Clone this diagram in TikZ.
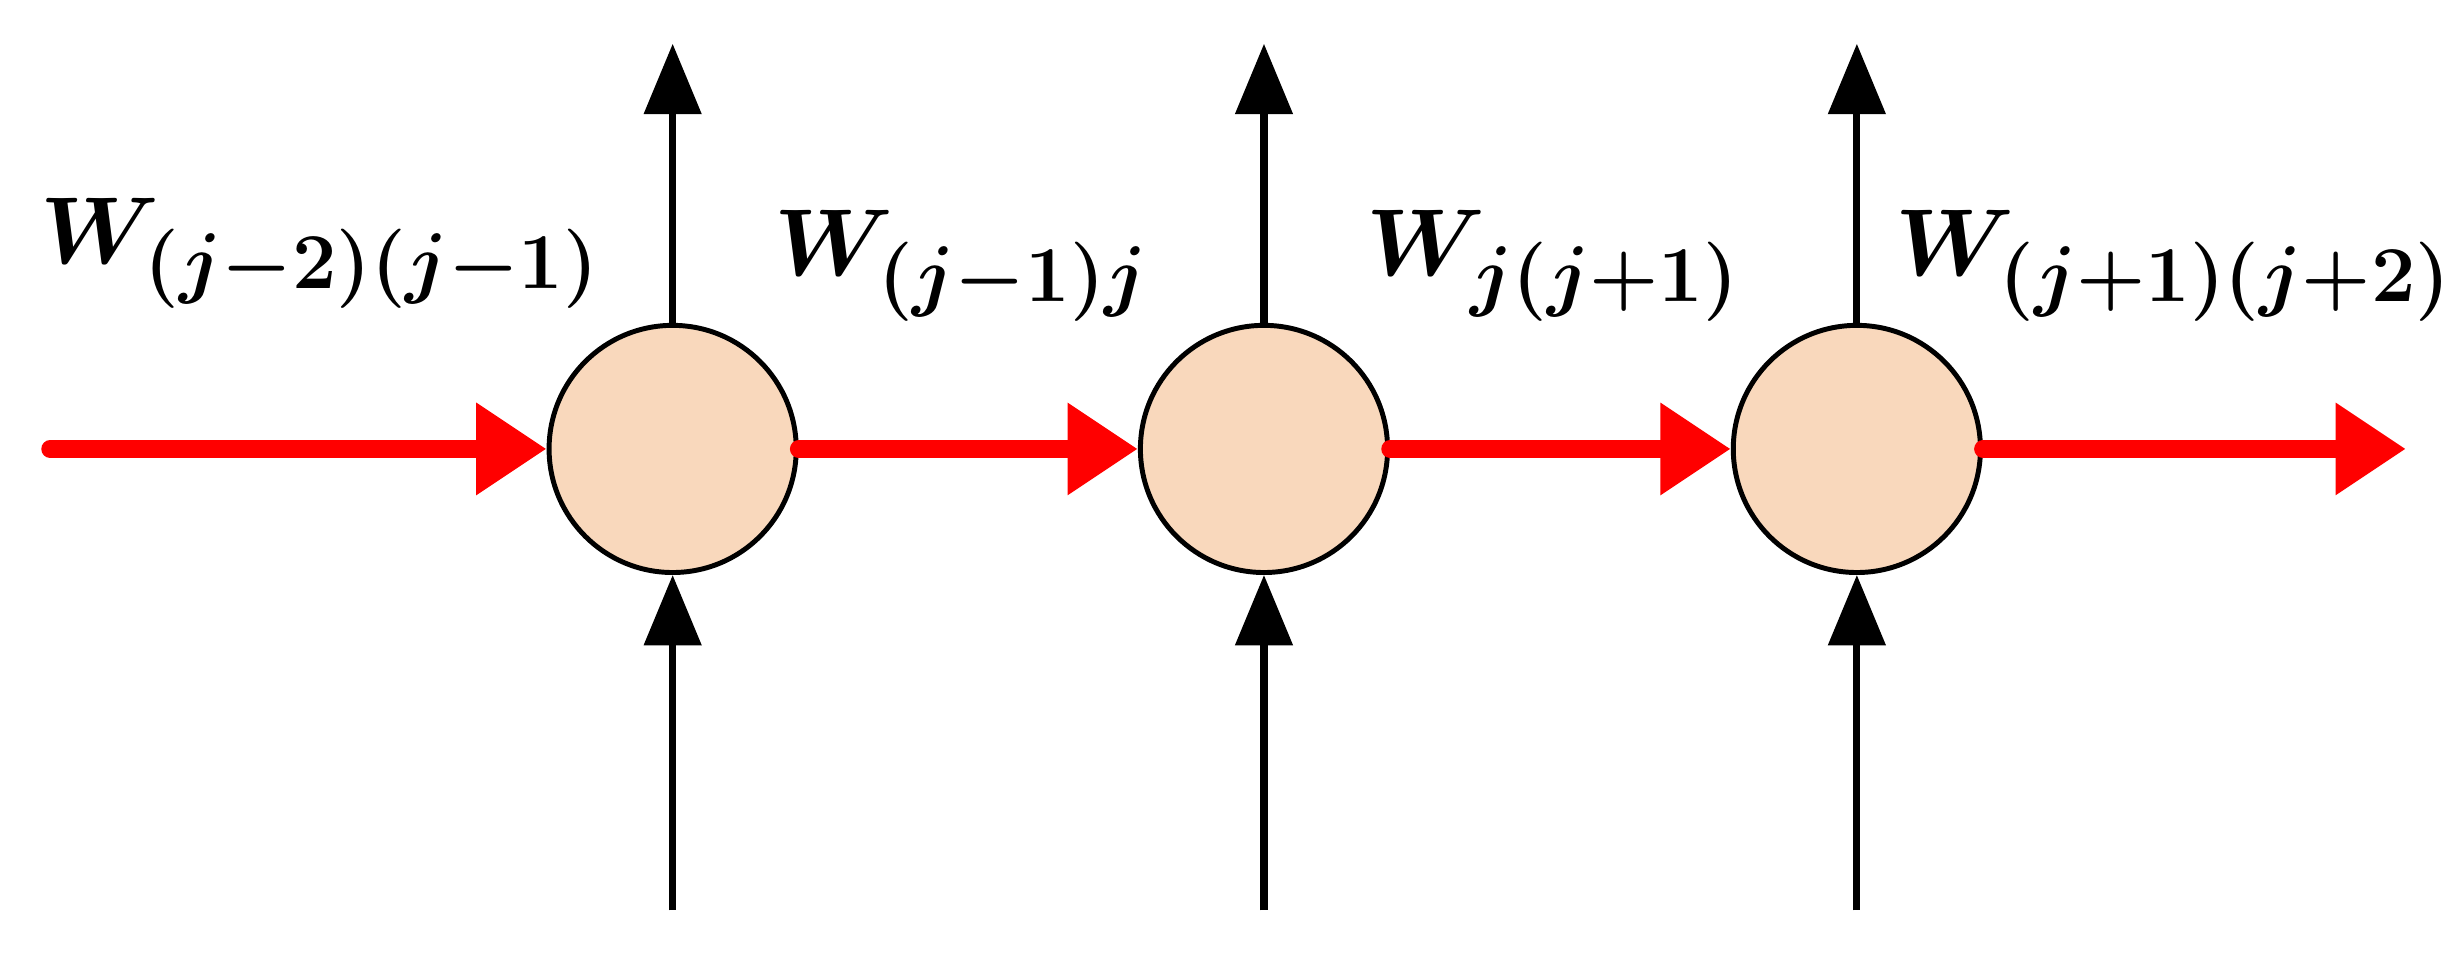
\documentclass[tikz,border=0pt]{standalone}
\usepackage{amsmath}
\usetikzlibrary{arrows.meta}
\definecolor{peach}{RGB}{249,216,188}
\begin{document}
\begin{tikzpicture}[
  nd/.style={circle,draw=black,line width=0.9pt,fill=peach,minimum size=1.58cm,inner sep=0pt},
  blk/.style={line width=1.3pt,-{Triangle[length=0.45cm,width=0.36cm]}},
  red/.style={draw=red,line width=3.2pt,line cap=round,-{Triangle[length=0.45cm,width=0.56cm]}},
  lab/.style={font=\fontsize{19}{22}\selectfont\boldmath}]
\useasboundingbox (0,0) rectangle (15.7,6.1);
\node[nd] (c1) at (4.30,3.23) {};
\node[nd] (c2) at (8.08,3.23) {};
\node[nd] (c3) at (11.87,3.23) {};
\foreach \i/\x in {1/4.30,2/8.08,3/11.87}{
  \coordinate (b\i) at (\x,0.28);
  \coordinate (t\i) at (\x,5.82);
  \draw[blk] (b\i) -- (c\i.south);
  \draw[blk] (c\i.north) -- (t\i);
}
\coordinate (s) at (0.32,3.23);
\coordinate (e) at (15.38,3.23);
\draw[red] (s) -- (c1.west);
\draw[red] (c1.east) -- (c2.west);
\draw[red] (c2.east) -- (c3.west);
\draw[red] (c3.east) -- (e);
\node[lab] (l1) at (2.05,4.48) {$W_{(j-2)(j-1)}$};
\node[lab] (l2) at (6.15,4.40) {$W_{(j-1)j}$};
\node[lab] (l3) at (9.93,4.40) {$W_{j(j+1)}$};
\node[lab] (l4) at (13.9,4.40) {$W_{(j+1)(j+2)}$};
\end{tikzpicture}
\end{document}
